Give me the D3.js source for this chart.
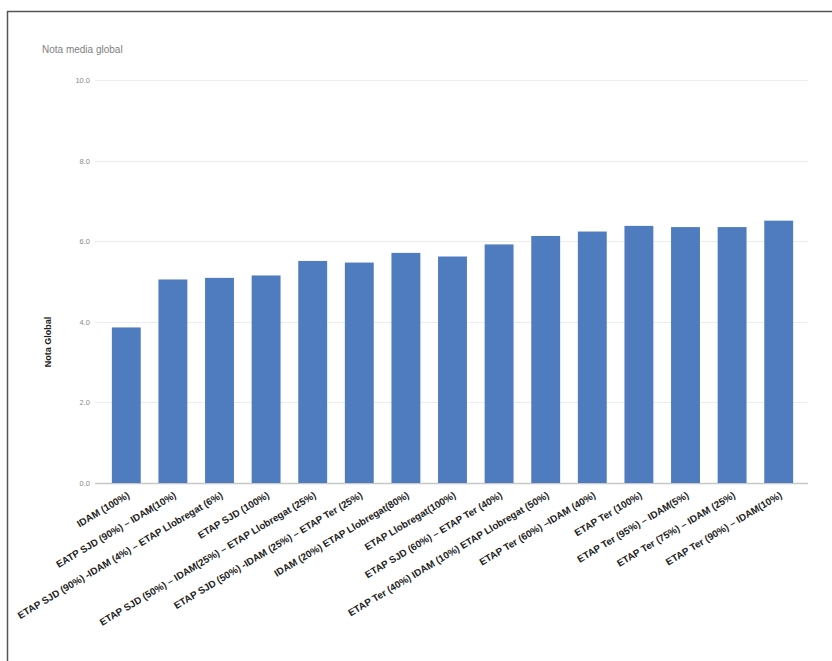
<!DOCTYPE html>
<html>
<head>
<meta charset="utf-8">
<script src="https://cdn.jsdelivr.net/npm/d3@7"></script>
<style>
  html, body { margin: 0; padding: 0; background: #fff; }
  svg { display: block; }
</style>
</head>
<body>
<svg id="chart" width="832" height="661"></svg>
<script>
const categories = [
  "IDAM (100%)",
  "EATP SJD (90%) – IDAM(10%)",
  "ETAP SJD (90%) -IDAM (4%) – ETAP Llobregat (6%)",
  "ETAP SJD (100%)",
  "ETAP SJD (50%) – IDAM(25%) – ETAP Llobregat (25%)",
  "ETAP SJD (50%) -IDAM (25%) – ETAP Ter (25%)",
  "IDAM (20%) ETAP Llobregat(80%)",
  "ETAP Llobregat(100%)",
  "ETAP SJD (60%) – ETAP Ter (40%)",
  "ETAP Ter (40%) IDAM (10%) ETAP Llobregat (50%)",
  "ETAP Ter (60%) –IDAM (40%)",
  "ETAP Ter (100%)",
  "ETAP Ter (95%) – IDAM(5%)",
  "ETAP Ter (75%) – IDAM (25%)",
  "ETAP Ter (90%) – IDAM(10%)"
];
const values = [3.86, 5.05, 5.09, 5.15, 5.51, 5.47, 5.71, 5.62, 5.92, 6.13, 6.24, 6.38, 6.35, 6.35, 6.51];
const yTicks = [0, 2, 4, 6, 8, 10];
const chartTitle = "Nota media global";
const yTitle = "Nota Global";

const svg = d3.select("#chart");

// frame
svg.append("line").attr("x1", 7.5).attr("x2", 7.5).attr("y1", 11).attr("y2", 661)
  .attr("stroke", "#555").attr("stroke-width", 1.5);
svg.append("line").attr("x1", 7).attr("x2", 832).attr("y1", 11.5).attr("y2", 11.5)
  .attr("stroke", "#555").attr("stroke-width", 1.5);

const x = d3.scaleBand().domain(categories).range([103, 802]).paddingInner(0.38).paddingOuter(0.19);
const y = d3.scaleLinear().domain([0, 10]).range([483, 80]);

// gridlines
svg.append("g").selectAll("line").data(yTicks).join("line")
  .attr("x1", 95).attr("x2", 808)
  .attr("y1", d => Math.round(y(d)) + 0.5).attr("y2", d => Math.round(y(d)) + 0.5)
  .attr("stroke", d => d === 0 ? "#c8c8c8" : "#ececec")
  .attr("stroke-width", d => d === 0 ? 1.5 : 1);

// y tick labels
const yAxis = d3.axisLeft(y).tickValues(yTicks).tickFormat(d3.format(".1f")).tickSize(0).tickPadding(0);
const ya = svg.append("g").attr("transform", "translate(90,0)").call(yAxis);
ya.select(".domain").remove();
ya.selectAll("text").attr("font-family", "Arial, 'Liberation Sans', sans-serif")
  .attr("font-size", 7.5).attr("fill", "#888");

// bars
svg.append("g").selectAll("rect").data(values).join("rect")
  .attr("x", (d, i) => x(categories[i]))
  .attr("width", x.bandwidth())
  .attr("y", d => y(d))
  .attr("height", d => y(0) - y(d))
  .attr("fill", "#4f7cbf");

// x labels
const xAxis = d3.axisBottom(x).tickSize(0).tickPadding(0);
const xa = svg.append("g").attr("transform", "translate(0,483)").call(xAxis);
xa.select(".domain").remove();
xa.selectAll("text")
  .attr("font-family", "Arial, 'Liberation Sans', sans-serif")
  .attr("font-size", 9.8).attr("font-weight", "bold").attr("fill", "#222")
  .attr("text-anchor", "end")
  .attr("dy", null).attr("y", 0)
  .attr("transform", "translate(4,14) rotate(-31)");

// title
svg.append("text").attr("x", 42).attr("y", 53).text(chartTitle)
  .attr("font-family", "Arial, 'Liberation Sans', sans-serif")
  .attr("font-size", 10).attr("fill", "#808080");

// y title
svg.append("text").attr("transform", "translate(51,342) rotate(-90)")
  .attr("text-anchor", "middle").text(yTitle)
  .attr("font-family", "Arial, 'Liberation Sans', sans-serif")
  .attr("font-size", 9).attr("font-weight", "bold").attr("fill", "#222");
</script>
</body>
</html>
